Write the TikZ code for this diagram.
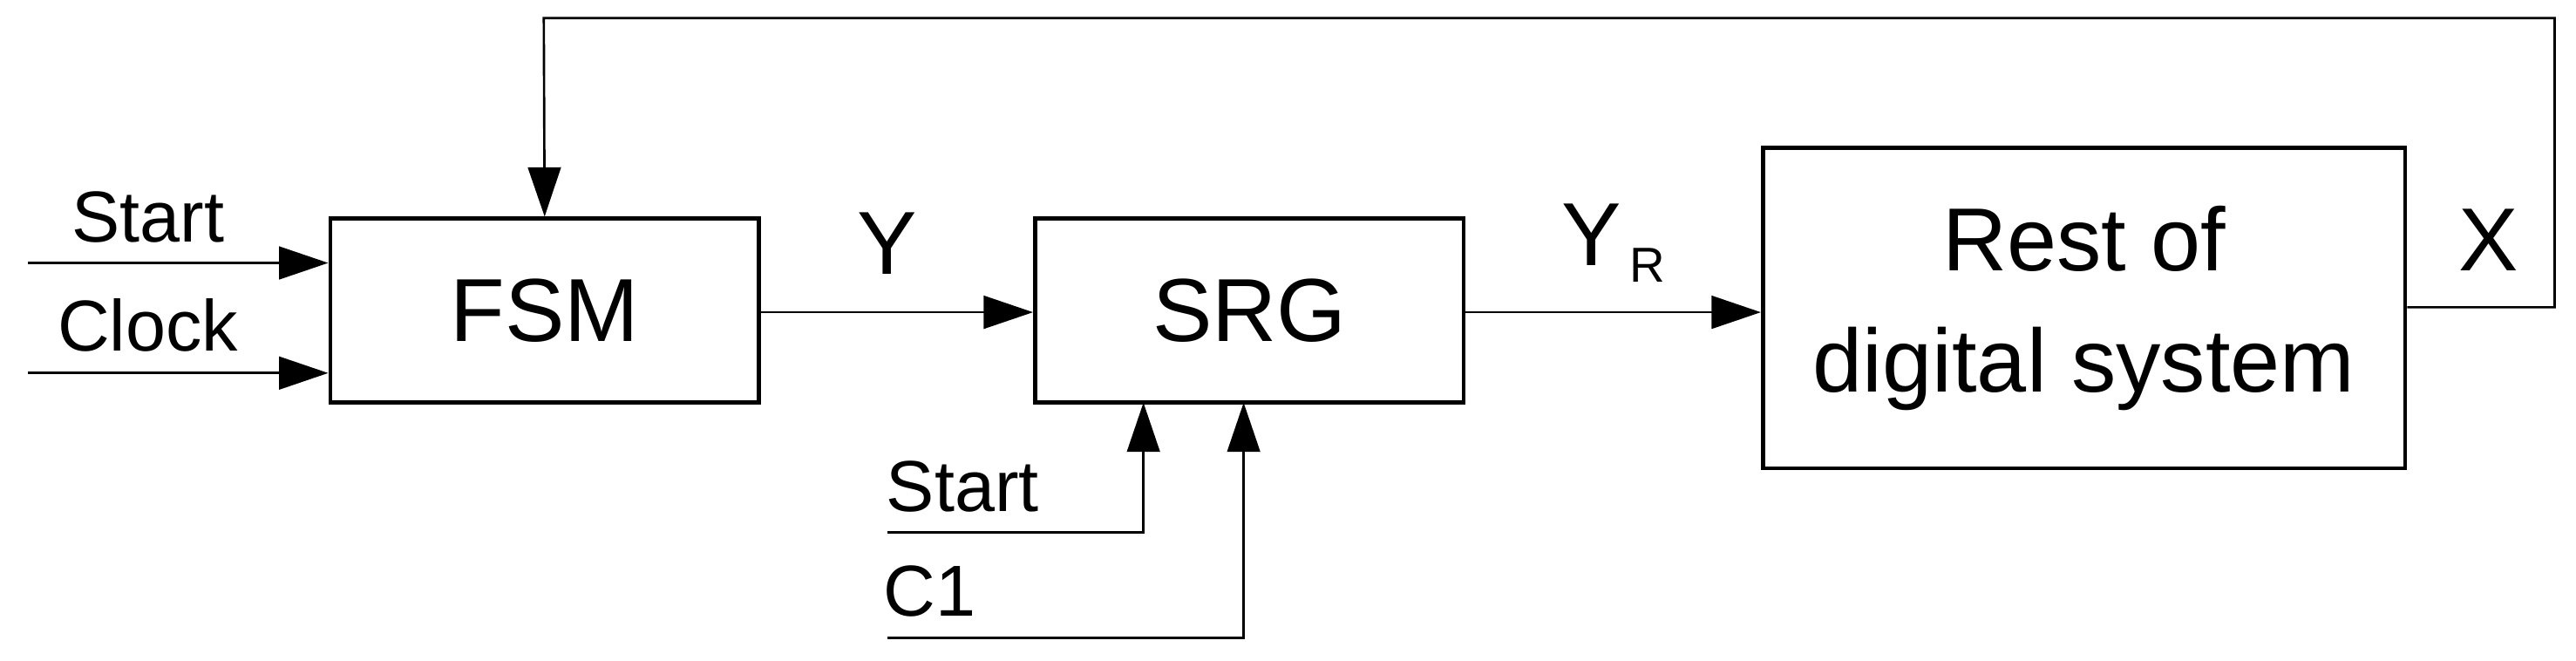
\documentclass[tikz,border=0pt]{standalone}
\usepackage{fontspec}
\setmainfont{Liberation Sans}
\usetikzlibrary{arrows.meta}
\begin{document}
\begin{tikzpicture}[x=0.02cm,y=-0.02cm,
  box/.style={draw,line width=1.4pt,inner sep=0pt},
  wire/.style={line width=0.8pt,-{Triangle[length=0.6cm,width=0.4cm]}},
  lab/.style={font=\fontsize{25}{29}\selectfont,inner sep=0pt},
  big/.style={font=\fontsize{31}{36}\selectfont,align=center}]
\useasboundingbox (0,0) rectangle (1568,402);
\node[box,minimum width=5.22cm,minimum height=2.24cm] (fsm) at (331.5,189) {};
\node[big] at (fsm) {FSM};
\node[box,minimum width=5.22cm,minimum height=2.24cm] (srg) at (760.5,189) {};
\node[big] at (srg) {SRG};
\node[box,minimum width=7.82cm,minimum height=3.9cm] (rest) at (1268.5,187.5) {};
\node[big,font=\fontsize{31}{42}\selectfont] at (rest) {Rest of\\digital system};
\coordinate (s0) at (17,160);
\coordinate (c0) at (17,227);
\draw[wire] (s0) -- (s0 -| fsm.west);
\draw[wire] (c0) -- (c0 -| fsm.west);
\node[lab] (ls) at (90,132) {Start};
\node[lab] (lc) at (90,198) {Clock};
\draw[wire] (fsm.east |- 0,190) -- (srg.west |- 0,190);
\node[big] (ly) at (540,148) {Y};
\draw[wire] (srg.east |- 0,190) -- (rest.west |- 0,190);
\node[big] (lyr) at (982,148) {Y\raisebox{-0.35ex}{\fontsize{17}{19}\selectfont\,R}};
\coordinate (f1) at (1555,187);
\coordinate (f2) at (1555,11);
\coordinate (f3) at (331,11);
\draw[wire] (rest.east |- f1) -- (f1) -- (f2) -- (f3) -- (fsm.north);
\node[big] (lx) at (1515,146) {X};
\coordinate (b1) at (540,324);
\coordinate (b2) at (540,388);
\draw[wire] (b1) -- (696,324) -- (696,245);
\draw[wire] (b2) -- (757,388) -- (757,245);
\node[lab] (ls2) at (586,296) {Start};
\node[lab] (lc1) at (566,360) {C1};
\end{tikzpicture}
\end{document}
